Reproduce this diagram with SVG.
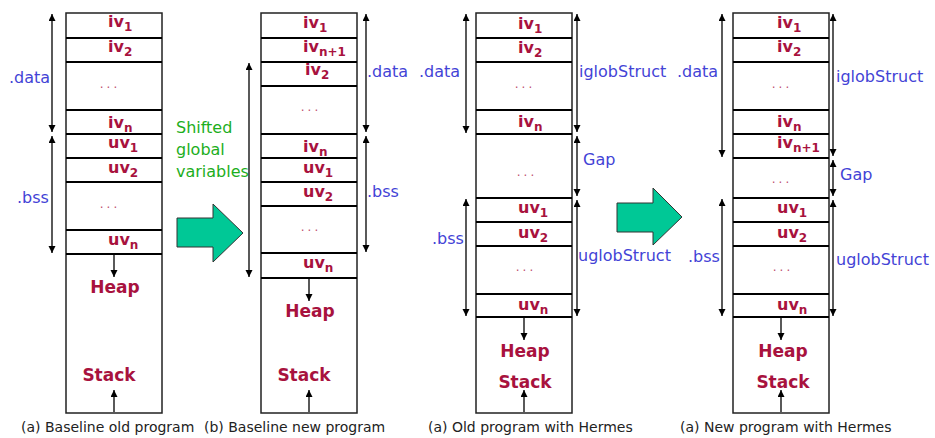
<svg xmlns="http://www.w3.org/2000/svg" width="935" height="438" viewBox="0 0 935 438">
<style>
.box{fill:#fff;stroke:#222;stroke-width:1.5}
.sep{stroke:#000;stroke-width:2.2}
.v{font-family:"DejaVu Sans",Verdana,sans-serif;font-weight:bold;font-size:16px;fill:#A8123E}
.s{font-size:12px}
.hs{font-family:"DejaVu Sans",Verdana,sans-serif;font-weight:bold;font-size:17px;fill:#A8123E;text-anchor:middle}
.dots{font-family:"DejaVu Sans",sans-serif;font-size:12px;fill:#C05070;letter-spacing:3px;text-anchor:middle}
.lbl{font-family:"DejaVu Sans",Verdana,sans-serif;font-size:16px;fill:#4343D6}
.grn{font-family:"DejaVu Sans",Verdana,sans-serif;font-size:16px;fill:#1DAE1D}
.cap{font-family:"DejaVu Sans",Verdana,sans-serif;font-size:14px;fill:#222}
.ar{stroke:#000;stroke-width:1.3;fill:none;marker-end:url(#ah)}
.dar{stroke:#000;stroke-width:1.3;fill:none;marker-start:url(#ah);marker-end:url(#ah)}
.big{fill:#00C896;stroke:#333;stroke-width:1}
</style>
<defs>
<marker id="ah" markerUnits="userSpaceOnUse" markerWidth="8" markerHeight="8" refX="7" refY="3.5" orient="auto-start-reverse">
<path d="M0,0 L7,3.5 L0,7 z" fill="#000"/>
</marker>
</defs>
<rect width="935" height="438" fill="#fff"/>

<g id="col1">
<rect class="box" x="66" y="13" width="96" height="400"/>
<g class="sep"><line x1="66" y1="38" x2="162" y2="38"/><line x1="66" y1="62" x2="162" y2="62"/><line x1="66" y1="110" x2="162" y2="110"/><line x1="66" y1="134" x2="162" y2="134"/><line x1="66" y1="158" x2="162" y2="158"/><line x1="66" y1="182" x2="162" y2="182"/><line x1="66" y1="230" x2="162" y2="230"/><line x1="66" y1="254" x2="162" y2="254"/></g>
<g id="c1-iv1"><text class="v" x="108" y="27">iv<tspan class="s" dy="4">1</tspan></text></g>
<g id="c1-iv2"><text class="v" x="108" y="52">iv<tspan class="s" dy="4">2</tspan></text></g>
<g id="c1-d1"><text class="dots" x="110" y="88">...</text></g>
<g id="c1-ivn"><text class="v" x="108" y="128">iv<tspan class="s" dy="4">n</tspan></text></g>
<g id="c1-uv1"><text class="v" x="108" y="148">uv<tspan class="s" dy="4">1</tspan></text></g>
<g id="c1-uv2"><text class="v" x="108" y="173">uv<tspan class="s" dy="4">2</tspan></text></g>
<g id="c1-d2"><text class="dots" x="110" y="208">...</text></g>
<g id="c1-uvn"><text class="v" x="108" y="245">uv<tspan class="s" dy="4">n</tspan></text></g>
<g id="c1-heap"><text class="hs" x="115" y="293">Heap</text></g>
<g id="c1-stack"><text class="hs" x="109" y="381">Stack</text></g>
<text class="lbl" x="9" y="83">.data</text>
<text class="lbl" x="17" y="203">.bss</text>
<text class="cap" x="21" y="432">(a) Baseline old program</text>
</g>

<g id="shift">
<polygon class="big" points="177,218 213,218 213,204 243,233 213,262 213,247 177,247"/>
<text class="grn" x="176" y="133">Shifted</text>
<text class="grn" x="176" y="155">global</text>
<text class="grn" x="176" y="177">variables</text>
</g>

<g id="col2">
<rect class="box" x="261" y="13" width="96" height="400"/>
<g class="sep"><line x1="261" y1="38" x2="357" y2="38"/><line x1="261" y1="62" x2="357" y2="62"/><line x1="261" y1="86" x2="357" y2="86"/><line x1="261" y1="134" x2="357" y2="134"/><line x1="261" y1="158" x2="357" y2="158"/><line x1="261" y1="182" x2="357" y2="182"/><line x1="261" y1="206" x2="357" y2="206"/><line x1="261" y1="253" x2="357" y2="253"/><line x1="261" y1="278" x2="357" y2="278"/></g>
<g id="c2-iv1"><text class="v" x="303" y="28">iv<tspan class="s" dy="4">1</tspan></text></g>
<g id="c2-ivn1"><text class="v" x="303" y="52">iv<tspan class="s" dy="4">n+1</tspan></text></g>
<g id="c2-iv2"><text class="v" x="305" y="75">iv<tspan class="s" dy="4">2</tspan></text></g>
<g id="c2-d1"><text class="dots" x="311" y="111">...</text></g>
<g id="c2-ivn"><text class="v" x="303" y="152">iv<tspan class="s" dy="4">n</tspan></text></g>
<g id="c2-uv1"><text class="v" x="303" y="173">uv<tspan class="s" dy="4">1</tspan></text></g>
<g id="c2-uv2"><text class="v" x="303" y="197">uv<tspan class="s" dy="4">2</tspan></text></g>
<g id="c2-d2"><text class="dots" x="311" y="231">...</text></g>
<g id="c2-uvn"><text class="v" x="303" y="268">uv<tspan class="s" dy="4">n</tspan></text></g>
<g id="c2-heap"><text class="hs" x="310" y="317">Heap</text></g>
<g id="c2-stack"><text class="hs" x="304" y="381">Stack</text></g>
<text class="lbl" x="367" y="77">.data</text>
<text class="lbl" x="367" y="197">.bss</text>
<text class="cap" x="204" y="432">(b) Baseline new program</text>
</g>

<g id="hermes-arrow">
<polygon class="big" points="617,203 653,203 653,188 682,217 653,245 653,232 617,232"/>
</g>

<g id="col3">
<rect class="box" x="476" y="13" width="96" height="400"/>
<g class="sep"><line x1="476" y1="38" x2="572" y2="38"/><line x1="476" y1="62" x2="572" y2="62"/><line x1="476" y1="110" x2="572" y2="110"/><line x1="476" y1="134" x2="572" y2="134"/><line x1="476" y1="198" x2="572" y2="198"/><line x1="476" y1="222" x2="572" y2="222"/><line x1="476" y1="246" x2="572" y2="246"/><line x1="476" y1="294" x2="572" y2="294"/><line x1="476" y1="317" x2="572" y2="317"/></g>
<g id="c3-iv1"><text class="v" x="518" y="29">iv<tspan class="s" dy="4">1</tspan></text></g>
<g id="c3-iv2"><text class="v" x="518" y="53">iv<tspan class="s" dy="4">2</tspan></text></g>
<g id="c3-d1"><text class="dots" x="525" y="88">...</text></g>
<g id="c3-ivn"><text class="v" x="518" y="127">iv<tspan class="s" dy="4">n</tspan></text></g>
<g id="c3-gap"><text class="dots" x="527" y="176">...</text></g>
<g id="c3-uv1"><text class="v" x="518" y="213">uv<tspan class="s" dy="4">1</tspan></text></g>
<g id="c3-uv2"><text class="v" x="518" y="238">uv<tspan class="s" dy="4">2</tspan></text></g>
<g id="c3-d2"><text class="dots" x="526" y="271">...</text></g>
<g id="c3-uvn"><text class="v" x="518" y="310">uv<tspan class="s" dy="4">n</tspan></text></g>
<g id="c3-heap"><text class="hs" x="525" y="357">Heap</text></g>
<g id="c3-stack"><text class="hs" x="525" y="388">Stack</text></g>
<text class="lbl" x="419" y="77">.data</text>
<text class="lbl" x="432" y="244">.bss</text>
<text class="lbl" x="579" y="77">iglobStruct</text>
<text class="lbl" x="583" y="165">Gap</text>
<text class="lbl" x="578" y="261">uglobStruct</text>
<text class="cap" x="428" y="432">(a) Old program with Hermes</text>
</g>

<g id="col4">
<rect class="box" x="733" y="13" width="96" height="400"/>
<g class="sep"><line x1="733" y1="38" x2="829" y2="38"/><line x1="733" y1="62" x2="829" y2="62"/><line x1="733" y1="110" x2="829" y2="110"/><line x1="733" y1="134" x2="829" y2="134"/><line x1="733" y1="158" x2="829" y2="158"/><line x1="733" y1="198" x2="829" y2="198"/><line x1="733" y1="222" x2="829" y2="222"/><line x1="733" y1="246" x2="829" y2="246"/><line x1="733" y1="294" x2="829" y2="294"/><line x1="733" y1="317" x2="829" y2="317"/></g>
<g id="c4-iv1"><text class="v" x="777" y="28">iv<tspan class="s" dy="4">1</tspan></text></g>
<g id="c4-iv2"><text class="v" x="777" y="52">iv<tspan class="s" dy="4">2</tspan></text></g>
<g id="c4-d1"><text class="dots" x="782" y="88">...</text></g>
<g id="c4-ivn"><text class="v" x="777" y="127">iv<tspan class="s" dy="4">n</tspan></text></g>
<g id="c4-ivn1"><text class="v" x="777" y="148">iv<tspan class="s" dy="4">n+1</tspan></text></g>
<g id="c4-gap"><text class="dots" x="782" y="183">...</text></g>
<g id="c4-uv1"><text class="v" x="777" y="213">uv<tspan class="s" dy="4">1</tspan></text></g>
<g id="c4-uv2"><text class="v" x="777" y="238">uv<tspan class="s" dy="4">2</tspan></text></g>
<g id="c4-d2"><text class="dots" x="783" y="271">...</text></g>
<g id="c4-uvn"><text class="v" x="777" y="310">uv<tspan class="s" dy="4">n</tspan></text></g>
<g id="c4-heap"><text class="hs" x="783" y="357">Heap</text></g>
<g id="c4-stack"><text class="hs" x="783" y="388">Stack</text></g>
<text class="lbl" x="677" y="77">.data</text>
<text class="lbl" x="688" y="262">.bss</text>
<text class="lbl" x="836" y="82">iglobStruct</text>
<text class="lbl" x="840" y="180">Gap</text>
<text class="lbl" x="836" y="265">uglobStruct</text>
<text class="cap" x="680" y="432">(a) New program with Hermes</text>
</g>

<g id="connectors">
<line class="dar" x1="52" y1="14" x2="52" y2="132"/>
<line class="dar" x1="52" y1="136" x2="52" y2="253"/>
<line class="ar" x1="114" y1="255" x2="114" y2="277"/>
<line class="ar" x1="114" y1="412" x2="114" y2="390"/>

<line class="dar" x1="249" y1="63" x2="249" y2="277"/>
<line class="dar" x1="366" y1="14" x2="366" y2="132"/>
<line class="dar" x1="366" y1="136" x2="366" y2="252"/>
<line class="ar" x1="309" y1="279" x2="309" y2="301"/>
<line class="ar" x1="309" y1="412" x2="309" y2="390"/>

<line class="dar" x1="466" y1="14" x2="466" y2="133"/>
<line class="dar" x1="466" y1="199" x2="466" y2="316"/>
<line class="dar" x1="577" y1="14" x2="577" y2="132"/>
<line class="dar" x1="577" y1="136" x2="577" y2="196"/>
<line class="dar" x1="577" y1="200" x2="577" y2="316"/>
<line class="ar" x1="524" y1="318" x2="524" y2="340"/>
<line class="ar" x1="524" y1="412" x2="524" y2="390"/>

<line class="dar" x1="722" y1="14" x2="722" y2="157"/>
<line class="dar" x1="722" y1="199" x2="722" y2="316"/>
<line class="dar" x1="833" y1="14" x2="833" y2="156"/>
<line class="dar" x1="833" y1="160" x2="833" y2="196"/>
<line class="dar" x1="833" y1="200" x2="833" y2="316"/>
<line class="ar" x1="781" y1="318" x2="781" y2="340"/>
<line class="ar" x1="781" y1="412" x2="781" y2="390"/>
</g>
</svg>
